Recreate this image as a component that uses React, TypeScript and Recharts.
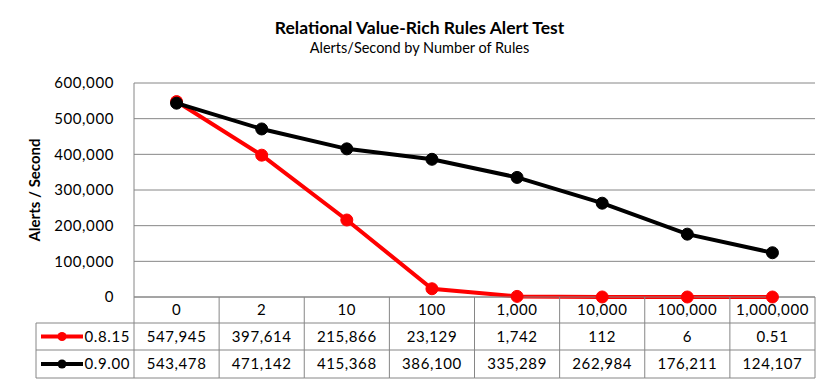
import { LineChart, Line, XAxis, YAxis, CartesianGrid } from 'recharts'

const categories = ['0', '2', '10', '100', '1,000', '10,000', '100,000', '1,000,000']
const v0815 = [547945, 397614, 215866, 23129, 1742, 112, 6, 0.51]
const v0900 = [543478, 471142, 415368, 386100, 335289, 262984, 176211, 124107]
const yTicks = [0, 100000, 200000, 300000, 400000, 500000, 600000]

const series = [
  { key: 'v0815', name: '0.8.15', color: '#ff0000', values: v0815 },
  { key: 'v0900', name: '0.9.00', color: '#000000', values: v0900 },
]

const data = categories.map((c, i) => ({ rules: c, v0815: v0815[i], v0900: v0900[i] }))

const W = 839
const H = 389
const PLOT_LEFT = 134
const PLOT_RIGHT = 815
const PLOT_TOP = 83
const PLOT_BOTTOM = 297
const ROW_H = [26, 27, 28]
const TABLE_LEFT = 36
const CW = (PLOT_RIGHT - PLOT_LEFT) / categories.length
const GRAY = '#868686'
const FONT = 'Lato, "Open Sans", sans-serif'
const TXT = { fontSize: 15, letterSpacing: 0.6 }

const fmt = (v: number) => v.toLocaleString('en-US', { maximumFractionDigits: 2 })

function TableTick(props: any) {
  const { x, payload, index } = props
  const left = x - CW / 2
  const right = x + CW / 2
  const y1 = PLOT_BOTTOM + ROW_H[0]
  const y2 = y1 + ROW_H[1]
  const y3 = y2 + ROW_H[2]
  const rows = [y1, y2, y3]
  return (
    <g fontFamily={FONT} fontSize={TXT.fontSize} letterSpacing={TXT.letterSpacing} fill="#000">
      <line x1={left} y1={PLOT_BOTTOM} x2={left} y2={y3} stroke={GRAY} />
      {index === categories.length - 1 && (
        <line x1={right} y1={PLOT_BOTTOM} x2={right} y2={y3} stroke={GRAY} />
      )}
      {rows.map((ry) => (
        <line key={ry} x1={left} y1={ry} x2={right} y2={ry} stroke={GRAY} />
      ))}
      <text x={x} y={PLOT_BOTTOM + ROW_H[0] / 2 + 5} textAnchor="middle">
        {payload.value}
      </text>
      {series.map((s, si) => (
        <text key={s.key} x={x} y={rows[si] + ROW_H[si + 1] / 2 + 5} textAnchor="middle">
          {fmt(s.values[index])}
        </text>
      ))}
      {index === 0 && (
        <g>
          <line x1={TABLE_LEFT} y1={y3} x2={TABLE_LEFT} y2={y1} stroke={GRAY} />
          {rows.map((ry) => (
            <line key={ry} x1={TABLE_LEFT} y1={ry} x2={left} y2={ry} stroke={GRAY} />
          ))}
          {series.map((s, si) => {
            const cy = rows[si] + ROW_H[si + 1] / 2
            return (
              <g key={s.key}>
                <line x1={TABLE_LEFT + 5} y1={cy} x2={TABLE_LEFT + 47} y2={cy} stroke={s.color} strokeWidth={4} />
                <circle cx={TABLE_LEFT + 26} cy={cy} r={4.5} fill={s.color} />
                <text x={left - 4} y={cy + 5} textAnchor="end">
                  {s.name}
                </text>
              </g>
            )
          })}
        </g>
      )}
    </g>
  )
}

export default function App() {
  return (
    <div style={{ position: 'relative', width: W, height: H, background: '#fff', fontFamily: FONT }}>
      <style>{`body{margin:0}`}</style>
      <div style={{ position: 'absolute', top: 17, left: 0, width: W, textAlign: 'center', fontWeight: 700, fontSize: 17.5 }}>
        Relational Value-Rich Rules Alert Test
      </div>
      <div style={{ position: 'absolute', top: 39, left: 0, width: W, textAlign: 'center', fontSize: 14.5 }}>
        Alerts/Second by Number of Rules
      </div>
      <LineChart
        width={W}
        height={H}
        data={data}
        margin={{ top: PLOT_TOP, right: W - PLOT_RIGHT, bottom: H - PLOT_BOTTOM - 81, left: 0 }}
      >
        <CartesianGrid vertical={false} stroke={GRAY} />
        <XAxis
          dataKey="rules"
          height={81}
          padding={{ left: CW / 2, right: CW / 2 }}
          axisLine={{ stroke: GRAY }}
          tickLine={false}
          interval={0}
          tick={<TableTick />}
        />
        <YAxis
          width={PLOT_LEFT}
          domain={[0, 600000]}
          ticks={yTicks}
          tickFormatter={(v: number) => v.toLocaleString('en-US')}
          axisLine={{ stroke: GRAY }}
          tickLine={false}
          tickMargin={14}
          tick={{ fill: '#000', fontSize: TXT.fontSize, letterSpacing: TXT.letterSpacing, fontFamily: FONT }}
          label={{
            value: 'Alerts / Second',
            angle: -90,
            position: 'insideLeft',
            offset: 35,
            style: { textAnchor: 'middle', fontWeight: 700, fontSize: 15, fontFamily: FONT, fill: '#000' },
          }}
        />
        {series.map((s) => (
          <Line
            key={s.key}
            dataKey={s.key}
            name={s.name}
            stroke={s.color}
            strokeWidth={4}
            type="linear"
            dot={{ r: 6, fill: s.color, stroke: s.color, strokeWidth: 1 }}
            isAnimationActive={false}
          />
        ))}
      </LineChart>
    </div>
  )
}
